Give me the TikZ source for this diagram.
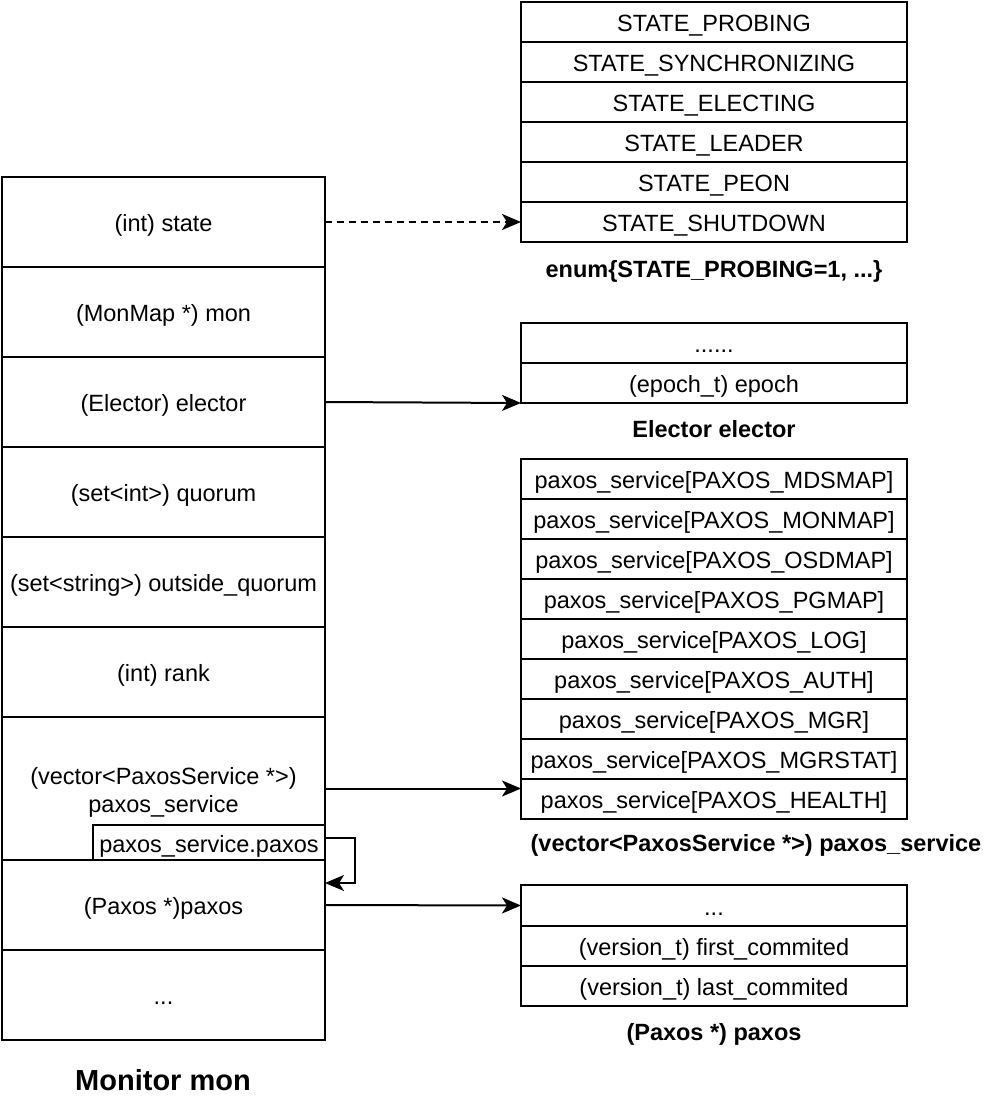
\documentclass[tikz,border=0pt]{standalone}
\usepackage{fontspec}
\setmainfont{Liberation Sans}
\usetikzlibrary{arrows.meta}
\begin{document}
\begin{tikzpicture}[x=1pt,y=-1pt,
  cell/.style={draw=black,line width=2pt,inner sep=0pt,outer sep=0pt,text=black,
    font=\fontsize{23.5}{28}\selectfont,align=center,text height=21pt,text depth=2pt},
  lcell/.style={cell,minimum width=323pt,minimum height=90pt},
  rcell/.style={cell,minimum width=386pt,minimum height=40pt},
  ttl/.style={font=\fontsize{23.5}{28}\selectfont\bfseries,text=black,inner sep=0pt,text height=21pt,text depth=2pt},
  arr/.style={line width=2pt,-{Stealth[length=19pt,width=16pt,inset=5pt]}}]
\useasboundingbox (0,0) rectangle (994,1100);
% left column
\node[lcell] (st) at (163.5,222) {(int) state};
\node[lcell] (mn) at (163.5,312) {(MonMap *) mon};
\node[lcell] (el) at (163.5,402) {(Elector) elector};
\node[lcell] (qu) at (163.5,492) {(set<int>) quorum};
\node[lcell] (oq) at (163.5,582) {(set<string>) outside\_quorum};
\node[lcell] (rk) at (163.5,672) {(int) rank};
\node[lcell,minimum height=143pt] (vec) at (163.5,788.5) {};
\node[inner sep=0pt,text=black,font=\fontsize{23.5}{28}\selectfont,align=center] (vect) at (163.5,792) {(vector<PaxosService *>)\\paxos\_service};
\node[cell,minimum width=232pt,minimum height=35pt] (ps) at (209,842.5) {paxos\_service.paxos};
\node[lcell] (px) at (163.5,905) {(Paxos *)paxos};
\node[lcell] (dt) at (163.5,995) {...};
\node[ttl,font=\fontsize{29}{33}\selectfont\bfseries,text height=26pt,text depth=2pt] (mon) at (163,1078) {Monitor mon};
% enum table
\node[rcell] (e1) at (714,21.5) {STATE\_PROBING};
\node[rcell] (e2) at (714,61.5) {STATE\_SYNCHRONIZING};
\node[rcell] (e3) at (714,101.5) {STATE\_ELECTING};
\node[rcell] (e4) at (714,141.5) {STATE\_LEADER};
\node[rcell] (e5) at (714,182) {STATE\_PEON};
\node[rcell] (e6) at (714,222) {STATE\_SHUTDOWN};
\node[ttl] (enl) at (714,268) {enum\{STATE\_PROBING=1, ...\}};
% elector table
\node[rcell] (ea) at (714,343) {......};
\node[rcell] (eb) at (714,383) {(epoch\_t) epoch};
\node[ttl] (ell) at (714,428) {Elector elector};
% paxos service table
\node[rcell] (p1) at (714,479) {paxos\_service[PAXOS\_MDSMAP]};
\node[rcell] (p2) at (714,519) {paxos\_service[PAXOS\_MONMAP]};
\node[rcell] (p3) at (714,559) {paxos\_service[PAXOS\_OSDMAP]};
\node[rcell] (p4) at (714,599) {paxos\_service[PAXOS\_PGMAP]};
\node[rcell] (p5) at (714,639) {paxos\_service[PAXOS\_LOG]};
\node[rcell] (p6) at (714,679) {paxos\_service[PAXOS\_AUTH]};
\node[rcell] (p7) at (714,719) {paxos\_service[PAXOS\_MGR]};
\node[rcell] (p8) at (714,759) {paxos\_service[PAXOS\_MGRSTAT]};
\node[rcell] (p9) at (714,799) {paxos\_service[PAXOS\_HEALTH]};
\node[ttl] (pvl) at (756,842) {(vector<PaxosService *>) paxos\_service};
% paxos table
\node[rcell,minimum height=40.5pt] (q1) at (714,905.5) {...};
\node[rcell,minimum height=40.5pt] (q2) at (714,946) {(version\_t) first\_commited};
\node[rcell,minimum height=40.5pt] (q3) at (714,986) {(version\_t) last\_commited};
\node[ttl] (pxl) at (714,1031) {(Paxos *) paxos};
% connectors
\draw[arr,dash pattern=on 7pt off 5pt] (st.east) -- (e6.west);
\draw[arr] (el.east) -- (eb.south west);
\draw[arr] (vec.east) -- (vec.east -| p9.west);
\draw[arr] (px.east) -- (q1.west);
\draw[arr] ([yshift=5pt]ps.east) -- ++(30,0) |- ([yshift=22pt]px.east);
\end{tikzpicture}
\end{document}
